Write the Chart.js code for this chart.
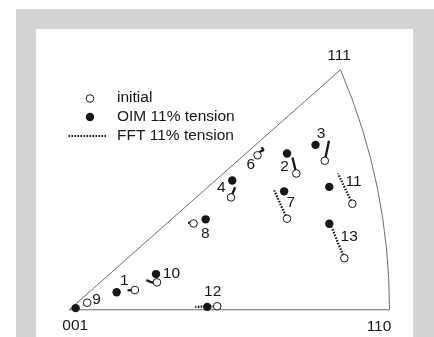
<!DOCTYPE html>
<html>
<head>
<meta charset="utf-8">
<script src="https://cdn.jsdelivr.net/npm/chart.js@4.4.0/dist/chart.umd.min.js"></script>
<style>
    body { margin: 0; background: #fff; }
    #frame { position: absolute; left: 16px; top: 9px; width: 418px; height: 328px; background: #d3d3d3; }
    #panel { position: absolute; left: 36px; top: 29px; width: 377px; height: 308px; background: #fff; }
</style>
</head>
<body>
<div id="frame"></div>
<div id="panel"><canvas id="chart"></canvas></div>
<script>
// triangle corners (001 -> 110 is 100 units)
const cornerLabels = ['001', '110', '111'];
const cornerX = [0, 100, 84.7];
const cornerY = [0, 0, 75.4];

// grains
const grains = ['1', '2', '3', '4', '6', '7', '8', '9', '10', '11', '12', '13'];
const initialX = [20.5, 70.9, 79.8, 50.5, 58.8, 68.0, 38.8, 5.6, 27.4, 88.4, 46.2, 85.9];
const initialY = [6.2, 42.8, 46.8, 35.3, 48.5, 28.6, 27.1, 2.2, 8.6, 33.3, 1.1, 16.2];
const oimX = [14.8, 68.0, 76.9, 50.9, null, 67.1, 42.6, 2.0, 27.1, 81.2, 43.1, 81.2];
const oimY = [5.5, 49.1, 51.8, 40.6, null, 37.2, 28.4, 0.5, 11.2, 38.6, 0.9, 27.0];
const fftX = [[20.5, 18.2], [70.9, 69.7], [79.8, 81.1], [50.5, 51.8], [58.8, 59.6, 60.6, 60.0],
    [68.0, 64.0], [38.8, 37.1], [5.6, 4.4], [27.4, 25.8, 24.1], [88.4, 83.9], [46.2, 39.3], [85.9, 81.9]];
const fftY = [[6.2, 6.1], [42.8, 47.8], [46.8, 53.1], [35.3, 38.5], [48.5, 49.6, 50.2, 51.0],
    [28.6, 37.5], [27.1, 27.4], [2.2, 1.7], [8.6, 8.6, 9.3], [33.3, 42.8], [1.1, 0.9], [16.2, 26.0]];
// where each grain number sits
const labelX = [17.2, 67.2, 78.6, 47.5, 56.7, 69.2, 42.5, 8.5, 31.9, 88.8, 44.8, 87.4];
const labelY = [9.0, 44.8, 55.2, 38.4, 45.6, 33.7, 23.9, 3.3, 11.2, 40.2, 5.8, 23.0];

const FONT = '15.5px "Liberation Sans", Arial, sans-serif';
const INK = '#161616';

const initialPts = grains.map((g, i) => ({x: initialX[i], y: initialY[i]}));
const oimPts = grains.map((g, i) => ({x: oimX[i], y: oimY[i]})).filter(p => p.x !== null);

const fftSets = grains.map((g, i) => {
    const pts = fftX[i].map((v, k) => ({x: v, y: fftY[i][k]}));
    const first = pts[0], last = pts[pts.length - 1];
    const len = Math.hypot(last.x - first.x, last.y - first.y);
    return {
        label: 'FFT ' + g,
        data: pts,
        showLine: true,
        borderColor: INK,
        borderWidth: 2.3,
        borderDash: len > 6.6 ? [1.6, 1.4] : [],
        tension: 0.4,
        pointRadius: 0
    };
});

const outline = {
    id: 'outline',
    beforeDatasetsDraw(chart) {
        const {ctx, scales: {x, y}} = chart;
        const ox = x.getPixelForValue(cornerX[0]), oy = y.getPixelForValue(cornerY[0]);
        const bx = x.getPixelForValue(cornerX[1]), by = y.getPixelForValue(cornerY[1]);
        const tx = x.getPixelForValue(cornerX[2]), ty = y.getPixelForValue(cornerY[2]);
        // arc centre lies on the 001-110 line
        const d = ty - by;
        const cx = (bx * bx - tx * tx - d * d) / (2 * (bx - tx));
        const r = bx - cx;
        const a1 = Math.atan2(d, tx - cx);
        ctx.save();
        ctx.strokeStyle = '#6e6e6e';
        ctx.lineWidth = 1;
        ctx.beginPath();
        ctx.moveTo(tx, ty);
        ctx.lineTo(ox, oy);
        ctx.lineTo(bx, by);
        ctx.arc(cx, by, r, 0, a1, true);
        ctx.stroke();

        ctx.fillStyle = INK;
        ctx.font = FONT;
        ctx.textAlign = 'center';
        ctx.textBaseline = 'middle';
        ctx.fillText(cornerLabels[0], ox + 6, oy + 16);
        ctx.fillText(cornerLabels[1], bx - 10.5, by + 16.5);
        ctx.fillText(cornerLabels[2], tx - 1.4, ty - 14);
        ctx.restore();
    }
};

const numbers = {
    id: 'numbers',
    afterDatasetsDraw(chart) {
        const {ctx, scales: {x, y}} = chart;
        ctx.save();
        ctx.fillStyle = INK;
        ctx.font = FONT;
        ctx.textAlign = 'center';
        ctx.textBaseline = 'middle';
        grains.forEach((g, i) => {
            ctx.fillText(g, x.getPixelForValue(labelX[i]), y.getPixelForValue(labelY[i]));
        });
        ctx.restore();
    }
};

const key = {
    id: 'key',
    afterDraw(chart) {
        const ctx = chart.ctx;
        ctx.save();
        ctx.fillStyle = INK;
        ctx.strokeStyle = INK;
        ctx.font = FONT;
        ctx.textBaseline = 'middle';

        ctx.lineWidth = 1;
        ctx.beginPath();
        ctx.arc(54, 69.5, 3.8, 0, Math.PI * 2);
        ctx.fillStyle = '#fff';
        ctx.fill();
        ctx.stroke();

        ctx.fillStyle = INK;
        ctx.beginPath();
        ctx.arc(54, 88, 4.2, 0, Math.PI * 2);
        ctx.fill();

        ctx.lineWidth = 2;
        ctx.setLineDash([1.6, 1.4]);
        ctx.beginPath();
        ctx.moveTo(32.5, 107);
        ctx.lineTo(70, 107);
        ctx.stroke();
        ctx.setLineDash([]);

        ctx.fillText('initial', 81, 69);
        ctx.fillText('OIM 11% tension', 81, 88);
        ctx.fillText('FFT 11% tension', 81, 107);
        ctx.restore();
    }
};

new Chart(document.getElementById('chart'), {
    type: 'scatter',
    data: {
        datasets: [
            {
                label: 'initial',
                data: initialPts,
                pointRadius: 3.8,
                pointBackgroundColor: '#fff',
                pointBorderColor: INK,
                pointBorderWidth: 1
            },
            {
                label: 'OIM 11% tension',
                data: oimPts,
                pointRadius: 4.2,
                pointBackgroundColor: INK,
                pointBorderColor: INK,
                pointBorderWidth: 0
            },
            ...fftSets
        ]
    },
    options: {
        responsive: true,
        maintainAspectRatio: false,
        animation: false,
        events: [],
        layout: { padding: 0 },
        plugins: {
            legend: { display: false },
            tooltip: { enabled: false }
        },
        scales: {
            x: { type: 'linear', min: -8.815, max: 105.775, display: false },
            y: { type: 'linear', min: -6.991, max: 86.626, display: false }
        }
    },
    plugins: [outline, numbers, key]
});
</script>
</body>
</html>
